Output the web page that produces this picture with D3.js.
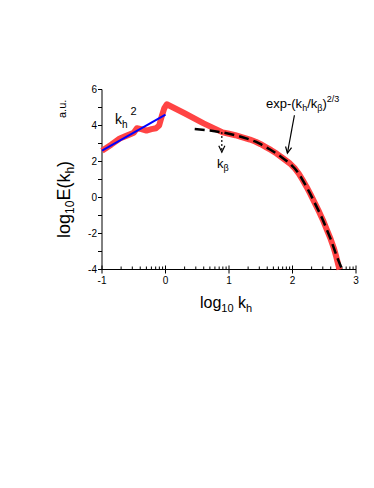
<!DOCTYPE html>
<html lang="en">
<head>
    <meta charset="UTF-8">
    <title>Spectrum</title>
    <script src="https://d3js.org/d3.v7.js"></script>
    <style>
        body { margin: 0; background: #fff; }
        text { font-family: "Liberation Sans", Arial, sans-serif; fill: #000; }
    </style>
</head>
<body>
    <div id="chart"></div>
    <script>
        // measured spectrum (red)
        const redX = [-1, -0.85, -0.72, -0.6, -0.5, -0.45, -0.38, -0.3, -0.22, -0.15, -0.1, -0.06, -0.02, 0.02, 0.3, 0.6, 0.9, 1.0, 1.1, 1.2, 1.33, 1.42, 1.5, 1.58, 1.66, 1.75, 1.85, 1.96, 2.04, 2.1, 2.16, 2.22, 2.28, 2.35, 2.42, 2.48, 2.54, 2.6, 2.65, 2.69, 2.74];
        const redY = [2.6, 2.95, 3.28, 3.45, 3.6, 3.85, 3.8, 3.72, 3.8, 3.85, 4.0, 4.5, 4.95, 5.18, 4.68, 4.12, 3.62, 3.54, 3.46, 3.36, 3.22, 3.1, 2.96, 2.8, 2.64, 2.44, 2.18, 1.89, 1.6, 1.32, 0.97, 0.6, 0.2, -0.3, -0.8, -1.26, -1.78, -2.3, -2.8, -3.3, -4];
        // exp fit (dashed black)
        const fitX = [0.46, 0.7, 0.91, 1.0, 1.1, 1.2, 1.33, 1.42, 1.5, 1.58, 1.66, 1.75, 1.85, 1.96, 2.04, 2.1, 2.16, 2.22, 2.28, 2.35, 2.42, 2.48, 2.54, 2.6, 2.65, 2.7, 2.78];
        const fitY = [3.8, 3.72, 3.61, 3.54, 3.46, 3.36, 3.22, 3.1, 2.96, 2.8, 2.64, 2.44, 2.18, 1.89, 1.6, 1.32, 0.97, 0.6, 0.2, -0.3, -0.8, -1.26, -1.78, -2.3, -2.8, -3.3, -4];
        // k^2 line (blue)
        const k2X = [-1, 0];
        const k2Y = [2.6, 4.6];

        const xTicks = [-1, 0, 1, 2, 3];
        const yTicks = [-4, -2, 0, 2, 4, 6];
        const yMinor = [-3, -1, 1, 3, 5];

        const width = 374, height = 488;
        const svg = d3.select("#chart").append("svg")
            .attr("width", width)
            .attr("height", height);

        const x = d3.scaleLinear().domain([-1, 3]).range([102, 356]);
        const y = d3.scaleLinear().domain([-4, 6]).range([269.5, 89.5]);

        // log-spaced minor ticks inside each decade
        const xMinor = [];
        for (let d = -1; d < 3; d++)
            for (let k = 2; k <= 9; k++) xMinor.push(d + Math.log10(k));

        // x axis
        const gx = svg.append("g");
        gx.append("line")
            .attr("x1", x(-1)).attr("x2", x(3))
            .attr("y1", y(-4)).attr("y2", y(-4))
            .attr("stroke", "#000").attr("stroke-width", 1);
        gx.selectAll(".minor").data(xMinor).join("line")
            .attr("x1", d => x(d)).attr("x2", d => x(d))
            .attr("y1", y(-4)).attr("y2", y(-4) - 3)
            .attr("stroke", "#000");
        gx.selectAll(".major").data(xTicks).join("line")
            .attr("x1", d => x(d)).attr("x2", d => x(d))
            .attr("y1", y(-4) - 4).attr("y2", y(-4) + 4)
            .attr("stroke", "#000");
        gx.selectAll("text").data(xTicks).join("text")
            .attr("x", d => x(d)).attr("y", y(-4) + 14)
            .attr("text-anchor", "middle")
            .style("font-size", "10px")
            .text(d => d);

        // y axis
        const gy = svg.append("g");
        gy.append("line")
            .attr("x1", x(-1)).attr("x2", x(-1))
            .attr("y1", y(-4)).attr("y2", y(6))
            .attr("stroke", "#000");
        gy.selectAll(".major").data(yTicks.concat(yMinor)).join("line")
            .attr("x1", x(-1) - 4).attr("x2", x(-1))
            .attr("y1", d => y(d)).attr("y2", d => y(d))
            .attr("stroke", "#000");
        gy.selectAll("text").data(yTicks).join("text")
            .attr("x", x(-1) - 5).attr("y", d => y(d) + 3.5)
            .attr("text-anchor", "end")
            .style("font-size", "10px")
            .text(d => d);

        const line = d3.line().x(d => x(d[0])).y(d => y(d[1]));

        // red spectrum
        svg.append("path")
            .datum(redX.map((v, i) => [v, redY[i]]))
            .attr("d", line)
            .attr("fill", "none")
            .attr("stroke", "#ff4444")
            .attr("stroke-width", 6)
            .attr("stroke-linejoin", "round");

        // blue k^2
        svg.append("path")
            .datum(k2X.map((v, i) => [v, k2Y[i]]))
            .attr("d", line)
            .attr("fill", "none")
            .attr("stroke", "#0000ff")
            .attr("stroke-width", 2);

        // dashed fit
        svg.append("path")
            .datum(fitX.map((v, i) => [v, fitY[i]]))
            .attr("d", line)
            .attr("fill", "none")
            .attr("stroke", "#000")
            .attr("stroke-width", 2.5)
            .attr("stroke-dasharray", "10,5");

        // arrows
        function arrow(x0, y0, x1, y1, dash) {
            const X0 = x(x0), Y0 = y(y0), X1 = x(x1), Y1 = y(y1);
            const a = Math.atan2(Y1 - Y0, X1 - X0), h = 7, s = 0.45;
            svg.append("line")
                .attr("x1", X0).attr("y1", Y0).attr("x2", X1).attr("y2", Y1)
                .attr("stroke", "#000").attr("stroke-width", 1.2)
                .attr("stroke-dasharray", dash || null);
            svg.append("path")
                .attr("d", `M${X1 - h * Math.cos(a - s)},${Y1 - h * Math.sin(a - s)}L${X1},${Y1}L${X1 - h * Math.cos(a + s)},${Y1 - h * Math.sin(a + s)}`)
                .attr("fill", "none").attr("stroke", "#000").attr("stroke-width", 1.2);
        }
        arrow(2.03, 4.57, 1.92, 2.46);
        arrow(0.887, 3.64, 0.887, 2.52, "2,2");

        // labels
        const k2 = svg.append("text").attr("x", 115).attr("y", 124).style("font-size", "14px");
        k2.append("tspan").text("k");
        k2.append("tspan").attr("dy", 4).style("font-size", "10px").text("h");
        k2.append("tspan").attr("dy", -13).attr("dx", 3).style("font-size", "11px").text("2");

        const kb = svg.append("text").attr("x", 217).attr("y", 168).style("font-size", "13px");
        kb.append("tspan").text("k");
        kb.append("tspan").attr("dy", 3).style("font-size", "9px").text("β");

        const ex = svg.append("text").attr("x", 266).attr("y", 108).style("font-size", "13px");
        ex.append("tspan").text("exp-(k");
        ex.append("tspan").attr("dy", 3).style("font-size", "9px").text("h");
        ex.append("tspan").attr("dy", -3).text("/k");
        ex.append("tspan").attr("dy", 3).style("font-size", "9px").text("β");
        ex.append("tspan").attr("dy", -3).text(")");
        ex.append("tspan").attr("dy", -6).style("font-size", "9px").text("2/3");

        const xl = svg.append("text").attr("x", 200).attr("y", 308).style("font-size", "16px");
        xl.append("tspan").text("log");
        xl.append("tspan").attr("dy", 4).style("font-size", "11px").text("10");
        xl.append("tspan").attr("dy", -4).text(" k");
        xl.append("tspan").attr("dy", 4).style("font-size", "11px").text("h");

        const yl = svg.append("text")
            .attr("transform", "translate(70,238) rotate(-90)")
            .style("font-size", "18px");
        yl.append("tspan").text("log");
        yl.append("tspan").attr("dy", 4).style("font-size", "12px").text("10");
        yl.append("tspan").attr("dy", -4).text("E(k");
        yl.append("tspan").attr("dy", 4).style("font-size", "12px").text("h");
        yl.append("tspan").attr("dy", -4).text(")");

        svg.append("text")
            .attr("transform", "translate(66,118) rotate(-90)")
            .style("font-size", "11px")
            .text("a.u.");
    </script>
</body>
</html>
